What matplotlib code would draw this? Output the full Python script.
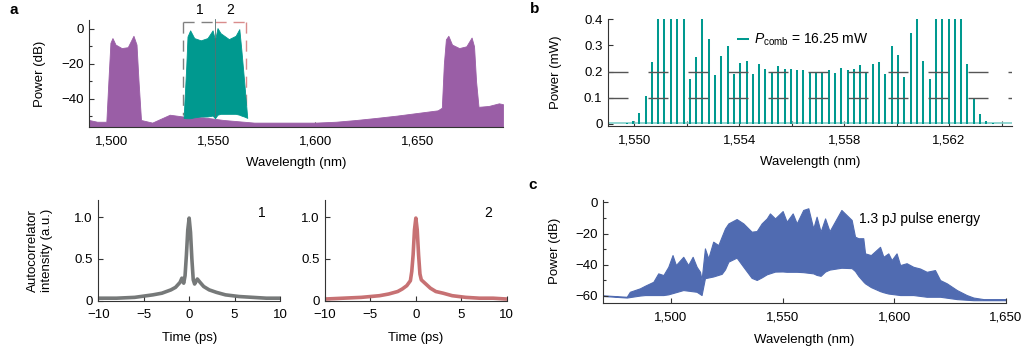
import numpy as np
import matplotlib
matplotlib.use('Agg')
import matplotlib.pyplot as plt

plt.rcParams['font.family'] = ['Liberation Sans', 'DejaVu Sans']
plt.rcParams['font.size'] = 9.5
plt.rcParams['mathtext.fontset'] = 'custom'
plt.rcParams['mathtext.rm'] = 'Liberation Sans'
plt.rcParams['mathtext.it'] = 'Liberation Sans:italic'
plt.rcParams['axes.linewidth'] = 0.8
plt.rcParams['axes.edgecolor'] = '#333333'

# ---- panel a : pump spectrum (purple) and comb spectrum (teal), dB ----
purple_nm = [1489, 1493, 1497.5, 1498.5, 1499.5, 1500.5, 1502, 1505, 1508, 1510.8,
             1512.3, 1513.3, 1514.5, 1520, 1528.6, 1535, 1545, 1555, 1565, 1570,
             1580, 1590, 1600, 1610, 1620, 1630, 1640, 1650, 1660, 1662, 1663,
             1664, 1665.2, 1667, 1670.5, 1674, 1676.6, 1677.8, 1678.8, 1680,
             1685, 1690, 1692]
purple_db = [-52, -53, -53, -30, -8, -5.3, -9, -11, -10.5, -4,
             -9, -30, -52, -53.5, -49, -50, -50.5, -52, -53, -53.5,
             -53.5, -53.5, -53.5, -53, -52, -50.8, -49.5, -48, -46.5, -45, -20,
             -6, -4, -9, -11, -10, -5, -10, -30, -44.5,
             -44, -42.5, -43]
teal_nm = [1535.4, 1536.7, 1537.3, 1538.6, 1540.6, 1543.8, 1547.1, 1549.6, 1550.8,
           1552.0, 1553.5, 1557.6, 1560.9, 1562.7, 1563.7, 1565.0, 1566.6]
teal_hi = [-50.8, -21, -4.4, -0.9, -5.3, -6.6, -5.3, -0.9, -6.5,
           0.4, -2.5, -5.9, -4, -0.2, -12, -29, -50.8]
teal_lo = [-50.8, -51, -51, -51, -50.5, -50, -50, -49.5, -51,
           -49, -48.5, -48.5, -48.5, -49, -49.5, -50, -50.8]
box1_nm = [1534.9, 1550.6]
box2_nm = [1550.6, 1566.2]

# ---- panel b : comb lines (mW) ----
comb_nm = [1549.71, 1549.95, 1550.19, 1550.43, 1550.67, 1550.91, 1551.15, 1551.39,
           1551.63, 1551.88, 1552.12, 1552.36, 1552.60, 1552.84, 1553.08, 1553.32,
           1553.56, 1553.80, 1554.04, 1554.28, 1554.52, 1554.76, 1555.00, 1555.24,
           1555.48, 1555.73, 1555.97, 1556.21, 1556.45, 1556.69, 1556.93, 1557.17,
           1557.41, 1557.65, 1557.89, 1558.13, 1558.37, 1558.61, 1558.85, 1559.09,
           1559.33, 1559.57, 1559.82, 1560.06, 1560.30, 1560.54, 1560.78, 1561.02,
           1561.26, 1561.50, 1561.74, 1561.98, 1562.22, 1562.46, 1562.70, 1562.94,
           1563.18, 1563.42, 1563.66]
comb_mw = [0.005, 0.01, 0.04, 0.106, 0.238, 0.45, 0.45, 0.45,
           0.45, 0.45, 0.17, 0.256, 0.45, 0.324, 0.187, 0.26,
           0.296, 0.19, 0.232, 0.24, 0.19, 0.23, 0.21, 0.20,
           0.22, 0.21, 0.21, 0.205, 0.205, 0.20, 0.20, 0.20,
           0.205, 0.195, 0.215, 0.205, 0.21, 0.225, 0.20, 0.23,
           0.235, 0.19, 0.296, 0.264, 0.178, 0.347, 0.45, 0.242,
           0.172, 0.45, 0.45, 0.45, 0.45, 0.45, 0.229, 0.096,
           0.037, 0.01, 0.003]

# ---- autocorrelation traces ----
t_ps = [-10, -8, -6, -4, -3, -2, -1.5, -1.0, -0.8, -0.6, -0.45, -0.3, -0.15, 0,
        0.15, 0.3, 0.45, 0.6, 0.9, 1.2, 1.6, 2.2, 3, 4, 5.5, 7, 8.5, 10]
ac1 = [0.03, 0.03, 0.04, 0.07, 0.09, 0.13, 0.16, 0.22, 0.27, 0.21, 0.3, 0.55, 0.85, 0.99,
       0.82, 0.5, 0.25, 0.2, 0.26, 0.22, 0.17, 0.13, 0.1, 0.07, 0.05, 0.04, 0.03, 0.03]
ac2 = [0.02, 0.03, 0.04, 0.06, 0.08, 0.11, 0.14, 0.18, 0.21, 0.24, 0.35, 0.55, 0.85, 0.99,
       0.85, 0.55, 0.32, 0.25, 0.22, 0.19, 0.15, 0.11, 0.09, 0.06, 0.04, 0.03, 0.03, 0.02]

# ---- panel c : broadened spectrum envelopes (dB) ----
c_hi_nm = [1469.7, 1480.2, 1481.6, 1486.1, 1488.4, 1492.1, 1494.3, 1496.6, 1498.8, 1500.7,
           1502.2, 1505.5, 1507.7, 1509.7, 1511.5, 1513.0, 1513.7, 1515.2, 1516.7, 1518.9,
           1521.2, 1522.7, 1524.2, 1525.7, 1529.4, 1532.4, 1536.1, 1538.4, 1540.6, 1542.9,
           1544.3, 1546.6, 1550.0, 1551.8, 1554.5, 1556.3, 1559.2, 1561.5, 1563.7, 1565.2,
           1567.0, 1569.0, 1571.0, 1576.3, 1580.9, 1582.4, 1583.9, 1586.1, 1586.9, 1589.5,
           1593.6, 1595.1, 1597.3, 1598.8, 1601.0, 1602.6, 1605.5, 1608.5, 1611.5, 1614.5,
           1618.2, 1620.5, 1623.5, 1628.0, 1632.4, 1635.4, 1639.9, 1650.0]
c_hi_db = [-59.6, -60.5, -57.3, -55.1, -53.4, -50.9, -45.5, -46.6, -41.3, -33.8,
           -40.2, -34.9, -40.2, -34.9, -41.3, -44.5, -49.7, -29.5, -35.9, -25.2,
           -27.4, -22.0, -16.7, -13.5, -10.7, -13.5, -18.8, -18.4, -13.5, -10.3,
           -7.1, -10.3, -5.6, -12.4, -7.1, -13.5, -4.9, -3.8, -16.7, -9.2,
           -18.8, -10.3, -18.5, -4.9, -11.3, -22.0, -23.0, -23.0, -32.7, -33.8,
           -28.5, -34.9, -32.7, -37.0, -32.7, -40.2, -39.0, -41.3, -42.4, -44.5,
           -43.4, -49.8, -51.9, -56.2, -59.4, -61.0, -62.0, -62.0]
c_lo_nm = [1469.7, 1480.2, 1487.6, 1497.7, 1505.5, 1511.5, 1513.7, 1515.2, 1518.9, 1523.4,
           1525.7, 1528.0, 1530.2, 1532.4, 1535.4, 1537.6, 1540.0, 1542.9, 1547.4, 1551.8,
           1557.8, 1563.7, 1566.7, 1569.7, 1575.7, 1580.2, 1582.4, 1584.6, 1587.6, 1592.1,
           1596.6, 1602.6, 1608.5, 1614.5, 1620.5, 1628.0, 1635.4, 1650.0]
c_lo_db = [-60.0, -61.0, -59.4, -59.4, -56.2, -57.3, -59.4, -48.6, -47.5, -45.5,
           -38.0, -34.4, -36.0, -41.3, -47.5, -50.3, -48.6, -46.1, -44.0, -44.5,
           -44.5, -45.5, -47.5, -43.4, -42.0, -41.3, -44.0, -48.6, -52.9, -56.2,
           -58.3, -59.4, -59.4, -60.5, -60.5, -62.0, -62.7, -62.7]

PURPLE = '#9a5ea6'
TEAL = '#00998f'
BLUE = '#506bb1'
GRAY = '#6f7272'
RED = '#c4696b'

fig = plt.figure(figsize=(10.34, 3.57), dpi=100)
W, H = 1034.0, 357.0


def add_axes(l, r, t, b):
    return fig.add_axes([l / W, 1 - b / H, (r - l) / W, (b - t) / H])


def style(ax):
    for s in ['top', 'right']:
        ax.spines[s].set_visible(False)
    ax.tick_params(which='both', direction='in', length=3.5, width=0.8,
                   colors='#333333', labelcolor='black', labelsize=9.5)
    ax.tick_params(axis='x', pad=6)
    ax.tick_params(axis='y', pad=4)
    ax.tick_params(which='minor', length=2.5)


# panel a
axa = add_axes(89, 503, 20, 127)
style(axa)
ylo = -56
axa.fill_between(purple_nm, ylo, purple_db, color=PURPLE, lw=0.6, zorder=2)
axa.fill_between(teal_nm, teal_lo, teal_hi, color=TEAL, lw=0.6, zorder=3)
top = 3.6
axa.plot([box1_nm[0], box1_nm[1]], [top, top], color='#808080', lw=1,
         dashes=(8, 5), zorder=4, clip_on=False)
axa.plot([box1_nm[0], box1_nm[0]], [top, -49], color='#808080', lw=1,
         dashes=(8, 5), zorder=1, clip_on=False)
axa.plot([box2_nm[0], box2_nm[1]], [top, top], color='#d98c8c', lw=1,
         dashes=(8, 5), zorder=4, clip_on=False)
axa.plot([box2_nm[1], box2_nm[1]], [top, -46], color='#d98c8c', lw=1,
         dashes=(8, 5), zorder=1, clip_on=False)
axa.plot([box1_nm[1], box1_nm[1]], [5.5, -50], color='#557070', lw=0.6,
         zorder=4, clip_on=False)
axa.text(1543.3, 10.8, '1', ha='center', va='center', fontsize=10)
axa.text(1558.3, 10.8, '2', ha='center', va='center', fontsize=10)
axa.set_xlim(1489, 1692)
axa.set_ylim(ylo, 5)
axa.set_xticks([1500, 1550, 1600, 1650])
axa.set_xticklabels(['1,500', '1,550', '1,600', '1,650'])
axa.set_yticks([0, -20, -40])
axa.set_yticks([-10, -30, -50], minor=True)
axa.set_xlabel('Wavelength (nm)', labelpad=7)
axa.set_ylabel('Power (dB)', labelpad=11)

# panel b
axb = add_axes(608, 1012, 19.3, 126)
style(axb)
axb.axhline(0.002, color='#7fd0ca', lw=1.2, zorder=2)
axb.vlines(comb_nm, 0, comb_mw, color=TEAL, lw=1.45, zorder=3,
           label=r'$\mathit{P}_{\mathrm{comb}}$ = 16.25 mW')
for yv in [0.1, 0.2]:
    axb.axhline(yv, color='#555555', lw=1, dashes=(14.4, 14.4), zorder=4)
axb.set_xlim(1549.0, 1564.4)
axb.set_ylim(-0.008, 0.4)
axb.set_xticks([1550, 1554, 1558, 1562])
axb.set_xticklabels(['1,550', '1,554', '1,558', '1,562'])
axb.set_xticks([1552, 1556, 1560, 1564], minor=True)
axb.set_yticks([0, 0.1, 0.2, 0.3, 0.4])
axb.set_yticklabels(['0', '0.1', '0.2', '0.3', '0.4'])
axb.tick_params(axis='x', which='minor', length=3.5)
axb.set_xlabel('Wavelength (nm)', labelpad=7)
axb.set_ylabel('Power (mW)', labelpad=16)
axb.legend(loc='center left', bbox_to_anchor=(0.305, 0.806), frameon=False,
           handlelength=0.9, handletextpad=0.35, borderaxespad=0, fontsize=10)

# autocorrelation panels
for (l, r), trace, col, lab in [((98.3, 280), ac1, GRAY, '1'),
                                ((325, 506.7), ac2, RED, '2')]:
    ax = add_axes(l, r, 200, 300.7)
    style(ax)
    ax.plot(t_ps, trace, color=col, lw=2.6, alpha=0.95, solid_joinstyle='round')
    ax.set_xlim(-10, 10)
    ax.set_ylim(0, 1.207)
    ax.set_xticks([-10, -5, 0, 5, 10])
    ax.set_yticks([0, 0.5, 1.0])
    ax.set_yticklabels(['0', '0.5', '1.0'])
    ax.set_xlabel('Time (ps)', labelpad=8)
    ax.text(8.0, 1.05, lab, ha='center', va='center', fontsize=10)
    if lab == '1':
        ax.set_ylabel('Autocorrelator\nintensity (a.u.)', labelpad=15.5)

# panel c
axc = add_axes(603.3, 1006, 200, 302.7)
style(axc)
lo_on_hi = np.interp(c_hi_nm, c_lo_nm, c_lo_db)
axc.fill_between(c_hi_nm, lo_on_hi, c_hi_db, color=BLUE, lw=0.8)
axc.set_xlim(1469.7, 1650)
axc.set_ylim(-64.3, 1.5)
axc.set_xticks([1500, 1550, 1600, 1650])
axc.set_xticklabels(['1,500', '1,550', '1,600', '1,650'])
axc.set_yticks([0, -20, -40, -60])
axc.set_yticks([-10, -30, -50], minor=True)
axc.set_xlabel('Wavelength (nm)', labelpad=8)
axc.set_ylabel('Power (dB)', labelpad=10.5)
axc.text(1584.3, -10.7, '1.3 pJ pulse energy', ha='left', va='center', fontsize=10)

fig.text(14 / W, 1 - 10 / H, 'a', fontweight='bold', fontsize=11, ha='center', va='center')
fig.text(535 / W, 1 - 9 / H, 'b', fontweight='bold', fontsize=11, ha='center', va='center')
fig.text(533 / W, 1 - 185 / H, 'c', fontweight='bold', fontsize=11, ha='center', va='center')

fig.savefig('out.png', dpi=100)
